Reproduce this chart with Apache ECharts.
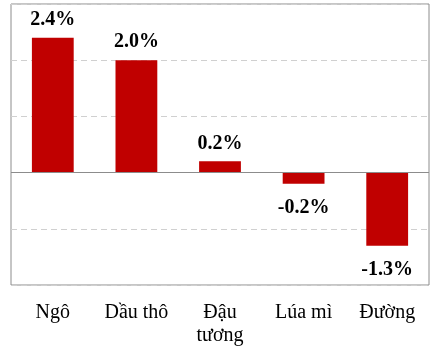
<!DOCTYPE html>
<html>
<head>
<meta charset="utf-8">
<script src="https://cdn.jsdelivr.net/npm/echarts@6/dist/echarts.min.js"></script>
<style>
  html, body { margin: 0; padding: 0; background: #fff; }
  #chart { width: 437px; height: 347px; }
</style>
</head>
<body>
<div id="chart"></div>
<script>
// Price change by commodity (%)
const categories = ['Ngô', 'Dầu thô', 'Đậu\ntương', 'Lúa mì', 'Đường'];
const changes = [2.4, 2.0, 0.2, -0.2, -1.3];
const yMin = -2, yMax = 3, yStep = 1;

const serif = '"Liberation Serif", "DejaVu Serif", serif';

const chart = echarts.init(document.getElementById('chart'), null, { renderer: 'canvas' });
chart.setOption({
  animation: false,
  backgroundColor: '#ffffff',
  grid: {
    left: 11, right: 8, top: 4, bottom: 61,
    show: true, borderColor: '#8c8c8c', borderWidth: 1
  },
  xAxis: {
    type: 'category',
    data: categories,
    position: 'bottom',
    axisLine: { show: false },
    axisTick: { show: false },
    axisLabel: {
      interval: 0,
      margin: 16,
      fontFamily: serif,
      fontSize: 20,
      lineHeight: 23,
      color: '#000'
    }
  },
  yAxis: {
    type: 'value',
    min: yMin, max: yMax, interval: yStep,
    axisLine: { show: false },
    axisTick: { show: false },
    axisLabel: { show: false },
    splitLine: { show: true, lineStyle: { color: '#d0d0d0', type: [6, 4], width: 1 } }
  },
  series: [{
    type: 'bar',
    data: changes.map(v => ({
      value: v,
      label: v >= 0
        ? { position: 'top', distance: 8 }
        : { position: 'bottom', distance: 14 }
    })),
    barWidth: '50%',
    itemStyle: { color: '#c00000' },
    label: {
      show: true,
      fontFamily: serif,
      fontWeight: 'bold',
      fontSize: 20,
      color: '#000',
      formatter: p => p.value.toFixed(1) + '%'
    },
    markLine: {
      silent: true,
      symbol: 'none',
      label: { show: false },
      lineStyle: { color: '#8c8c8c', type: 'solid', width: 1 },
      data: [{ yAxis: 0 }]
    }
  }]
});
</script>
</body>
</html>
